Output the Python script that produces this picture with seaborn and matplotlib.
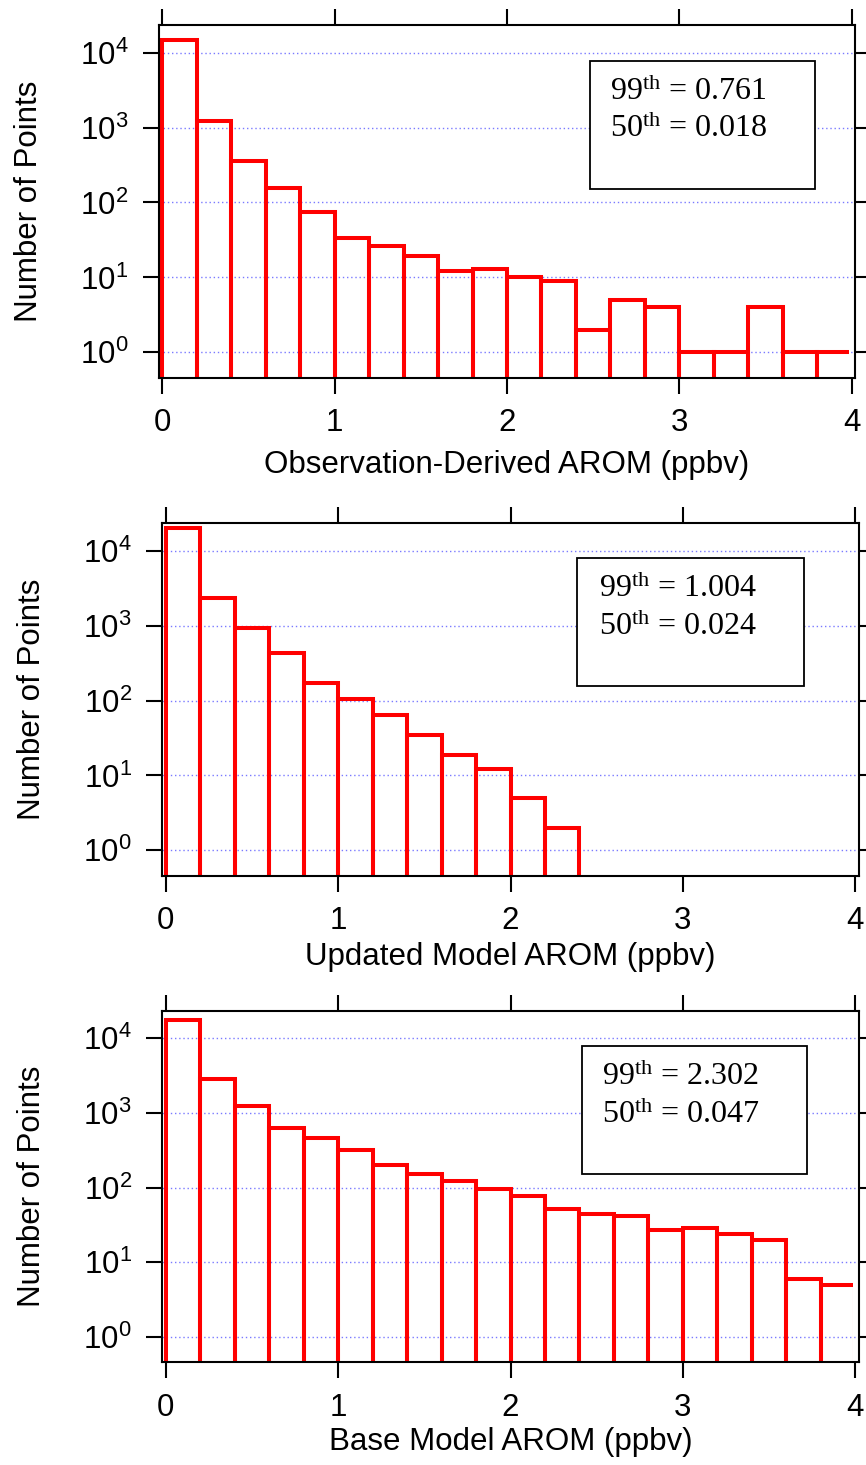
import numpy as np
import pandas as pd
import matplotlib
matplotlib.use("Agg")
import matplotlib.pyplot as plt
import seaborn as sns
from matplotlib.patches import Rectangle
from matplotlib.ticker import FixedLocator, LogFormatterMathtext, NullLocator

# histogram counts per 0.2 ppbv bin, starting at 0
bin_width = 0.2
obs_counts = [15000, 1240, 360, 154, 75, 34, 26, 19, 12, 13,
              10, 9, 2, 5, 4, 1, 1, 4, 1, 1]
updated_counts = [20000, 2340, 920, 435, 173, 105, 64, 35, 19, 12, 5, 2]
base_counts = [17500, 2820, 1240, 637, 468, 316, 201, 154, 123, 97,
               78, 52, 44, 42, 27, 29, 24, 20, 6, 5]

x_labels = ["Observation-Derived AROM (ppbv)",
            "Updated Model AROM (ppbv)",
            "Base Model AROM (ppbv)"]
p99_values = ["0.761", "1.004", "2.302"]
p50_values = ["0.018", "0.024", "0.047"]

x_ticks = [0, 1, 2, 3, 4]
y_ticks = [1, 10, 100, 1000, 10000]

sns.set_style("ticks")
plt.rcParams["font.family"] = ["Liberation Sans", "DejaVu Sans"]
plt.rcParams["mathtext.default"] = "regular"
for key in ["text.color", "axes.labelcolor", "xtick.color", "ytick.color",
            "axes.edgecolor"]:
    plt.rcParams[key] = "black"

fig = plt.figure(figsize=(8.66, 14.65), dpi=100)

# axes rectangles and annotation-box placement (axes fraction)
axes_pos = [[0.1836, 0.7422, 0.8037, 0.2407],
            [0.1874, 0.4023, 0.8042, 0.2405],
            [0.1874, 0.0701, 0.8042, 0.2400]]
box_pos = [(0.619, 0.536, 0.324, 0.363),
           (0.596, 0.538, 0.325, 0.364),
           (0.602, 0.536, 0.324, 0.364)]
text_pos = [(0.648, 0.787, 0.682),
            (0.627, 0.792, 0.683),
            (0.631, 0.789, 0.681)]
xlabel_y = [-0.205, -0.188, -0.184]
x_lim = (-0.02, 4.02)
y_lim = (10 ** -0.34, 10 ** 4.37)


def draw_panel(ax, counts, xlabel, q99, q50, box, tpos, xly):
    counts = np.asarray(counts, dtype=float)
    edges = [round(i * bin_width, 6) for i in range(len(counts) + 1)]
    df = pd.DataFrame({"conc": np.array(edges[:-1]) + bin_width / 2, "n": counts})

    sns.histplot(data=df, x="conc", weights="n", bins=edges, element="bars",
                 fill=False, color="red", linewidth=2.9, ax=ax)
    ax.set_yscale("log")
    ax.set_xlim(*x_lim)
    ax.set_ylim(*y_lim)

    # the last bar has no closing edge at the axis end
    if edges[-1] >= 4.0 - 1e-9:
        last = max(ax.patches, key=lambda p: p.get_x())
        clip = Rectangle((x_lim[0], y_lim[0]), 3.988 - x_lim[0],
                         y_lim[1] - y_lim[0], transform=ax.transData)
        last.set_clip_path(clip)

    ax.xaxis.set_major_locator(FixedLocator(x_ticks))
    ax.yaxis.set_major_locator(FixedLocator(y_ticks))
    ax.yaxis.set_major_formatter(LogFormatterMathtext())
    ax.yaxis.set_minor_locator(NullLocator())
    ax.xaxis.set_minor_locator(NullLocator())

    ax.yaxis.grid(True, color="#7a7aff", linestyle=(0, (1, 2)), linewidth=1.0)
    ax.xaxis.grid(False)
    ax.set_axisbelow(True)

    ax.tick_params(axis="both", which="major", direction="out", length=11.5,
                   width=1.5, top=True, right=True, labelsize=22.5, pad=10.5,
                   color="black", labelcolor="black")
    for sp in ax.spines.values():
        sp.set_visible(True)
        sp.set_linewidth(1.5)
        sp.set_color("black")

    ax.set_xlabel(xlabel, fontsize=22.5, color="black")
    ax.set_ylabel("Number of Points", fontsize=22.5, color="black")
    ax.xaxis.set_label_coords(0.5, xly)
    ax.yaxis.set_label_coords(-0.165, 0.5)

    bx, by, bw, bh = box
    ax.add_patch(Rectangle((bx, by), bw, bh, transform=ax.transAxes,
                           facecolor="white", edgecolor="black",
                           linewidth=1.3, zorder=5))
    tx, ty1, ty2 = tpos
    ax.text(tx, ty1, r"99$^{\mathdefault{th}}$ = " + q99, transform=ax.transAxes,
            family=["Liberation Serif", "DejaVu Serif"], fontsize=23,
            va="baseline", color="black", zorder=6)
    ax.text(tx, ty2, r"50$^{\mathdefault{th}}$ = " + q50, transform=ax.transAxes,
            family=["Liberation Serif", "DejaVu Serif"], fontsize=23,
            va="baseline", color="black", zorder=6)


all_counts = [obs_counts, updated_counts, base_counts]
for i in range(3):
    ax = fig.add_axes(axes_pos[i])
    draw_panel(ax, all_counts[i], x_labels[i], p99_values[i], p50_values[i],
               box_pos[i], text_pos[i], xlabel_y[i])

fig.savefig("out.png", dpi=100)
